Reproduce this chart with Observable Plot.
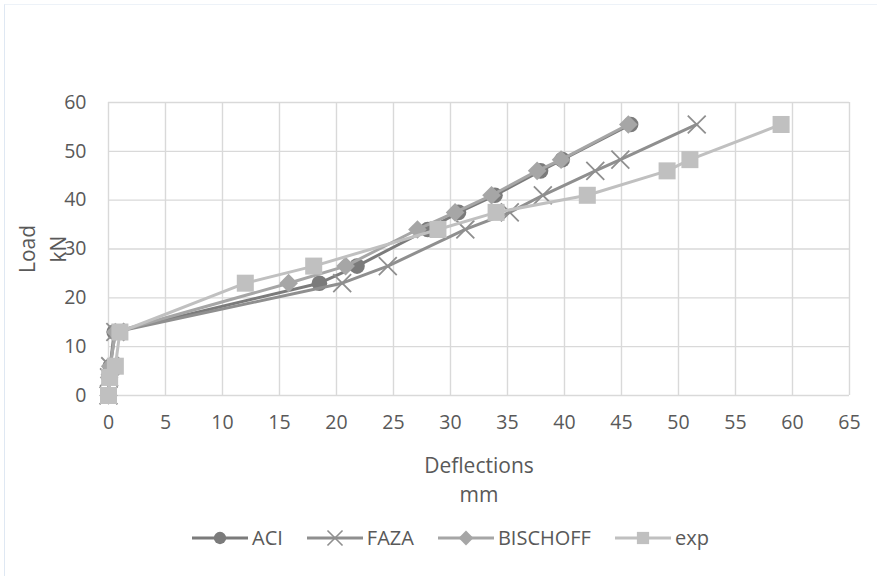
<!DOCTYPE html>
<html>
<head>
<meta charset="utf-8">
<script src="https://cdn.jsdelivr.net/npm/d3@7"></script>
<script src="https://cdn.jsdelivr.net/npm/@observablehq/plot@0.6"></script>
<style>
  html, body { margin: 0; padding: 0; background: #fff; }
  #wrap { position: relative; width: 877px; height: 576px; overflow: hidden; background: #fff;
          font-family: "Open Sans", sans-serif; color: #595959; }
  #frame { position: absolute; left: 4px; top: 4px; width: 900px; height: 600px;
           border-left: 1.5px solid #dfe8f3; border-top: 1.5px solid #edf2f8; }
  #chart { position: absolute; left: 0; top: 0; }
  #legend { position: absolute; left: 192px; top: 524px; display: flex; align-items: center;
            font-size: 20px; color: #595959; white-space: nowrap; }
  .item { display: flex; align-items: center; margin-right: 24px; }
  .item svg { margin-right: 4px; }
</style>
</head>
<body>
<div id="wrap">
  <div id="frame"></div>
  <div id="chart"></div>
  <div id="legend"></div>
</div>
<script>
// ---- data ----
const loads    = [0, 3.7, 6, 13, 23, 26.5, 34, 37.5, 41, 46, 48.3, 55.5];
const aciX     = [0, 0.05, 0.15, 0.5, 18.5, 21.8, 28, 30.7, 33.9, 37.9, 39.8, 45.8];
const fazaX    = [0, 0.05, 0.15, 0.6, 20.5, 24.5, 31.3, 35.2, 38.1, 42.7, 44.9, 51.6];
const bischX   = [0, 0.05, 0.15, 0.6, 15.8, 20.8, 27.1, 30.4, 33.6, 37.6, 39.7, 45.6];
const expX     = [0, 0.1, 0.6, 1.0, 12, 18, 28.9, 34, 42, 49, 51, 59];
const seriesNames = ["ACI", "FAZA", "BISCHOFF", "exp"];
const xTicks = d3.range(0, 66, 5);
const yTicks = d3.range(0, 61, 10);
const xLabel = ["Deflections", "mm"];
const yLabel = ["Load", "kN"];

const colors = {ACI: "#7b7b7b", FAZA: "#8f8f8f", BISCHOFF: "#a6a6a6", exp: "#c0c0c0"};
const toRows = (xs) => xs.map((x, i) => ({x, y: loads[i]}));
const rows = {ACI: toRows(aciX), FAZA: toRows(fazaX), BISCHOFF: toRows(bischX), exp: toRows(expX)};

const txt = "#595959";
const marks = [
  Plot.gridX(xTicks, {stroke: "#d9d9d9", strokeOpacity: 1, strokeWidth: 1.4}),
  Plot.gridY(yTicks, {stroke: "#d9d9d9", strokeOpacity: 1, strokeWidth: 1.4}),
  Plot.axisX(xTicks, {tickSize: 0, tickPadding: 20, fontSize: 19.5, fill: txt, label: null}),
  Plot.axisY(yTicks, {tickSize: 0, tickPadding: 22, fontSize: 19.5, fill: txt, label: null}),
  Plot.text([yLabel[0]], {frameAnchor: "left", textAnchor: "middle", dx: -80, rotate: -90, fontSize: 21, fill: txt}),
  Plot.text([yLabel[1]], {frameAnchor: "left", textAnchor: "middle", dx: -49, rotate: -90, fontSize: 21, fill: txt}),
  Plot.text([xLabel[0]], {frameAnchor: "bottom", dy: 77, fontSize: 21, fill: txt}),
  Plot.text([xLabel[1]], {frameAnchor: "bottom", dy: 106, fontSize: 21, fill: txt})
];
const symbolOf = {ACI: "circle", FAZA: "times", BISCHOFF: "diamond2", exp: "square"};
const rOf = {ACI: 7.8, FAZA: 8.2, BISCHOFF: 8.4, exp: 9.6};
for (const name of seriesNames) {
  const c = colors[name];
  marks.push(Plot.line(rows[name], {x: "x", y: "y", stroke: c, strokeWidth: 3}));
  if (name === "FAZA") {
    marks.push(Plot.dot(rows[name], {x: "x", y: "y", symbol: "times", r: rOf[name], stroke: c, strokeWidth: 1.8}));
  } else {
    marks.push(Plot.dot(rows[name], {x: "x", y: "y", symbol: symbolOf[name], r: rOf[name], fill: c, stroke: "none"}));
  }
}

const plot = Plot.plot({
  width: 877,
  height: 510,
  marginTop: 102,
  marginBottom: 115,
  marginLeft: 108,
  marginRight: 28,
  style: {fontFamily: "'Open Sans', sans-serif", background: "transparent", overflow: "visible"},
  x: {domain: [0, 65], label: null},
  y: {domain: [0, 60], label: null},
  marks
});
document.getElementById("chart").appendChild(plot);

// ---- legend ----
const legend = document.getElementById("legend");
const legSymbol = {ACI: d3.symbolCircle, FAZA: d3.symbolTimes, BISCHOFF: d3.symbolDiamond2, exp: d3.symbolSquare};
const legSize = {ACI: 120, FAZA: 150, BISCHOFF: 140, exp: 150};
for (const name of seriesNames) {
  const item = document.createElement("div");
  item.className = "item";
  const w = 56, h = 20;
  const svg = d3.create("svg").attr("width", w).attr("height", h);
  svg.append("line").attr("x1", 0).attr("x2", w).attr("y1", h / 2).attr("y2", h / 2)
     .attr("stroke", colors[name]).attr("stroke-width", 3);
  const p = svg.append("path").attr("transform", `translate(${w / 2},${h / 2})`)
     .attr("d", d3.symbol(legSymbol[name], legSize[name])());
  if (name === "FAZA") p.attr("fill", "none").attr("stroke", colors[name]).attr("stroke-width", 1.6);
  else p.attr("fill", colors[name]);
  item.appendChild(svg.node());
  const t = document.createElement("span");
  t.textContent = name;
  item.appendChild(t);
  legend.appendChild(item);
}
</script>
</body>
</html>
